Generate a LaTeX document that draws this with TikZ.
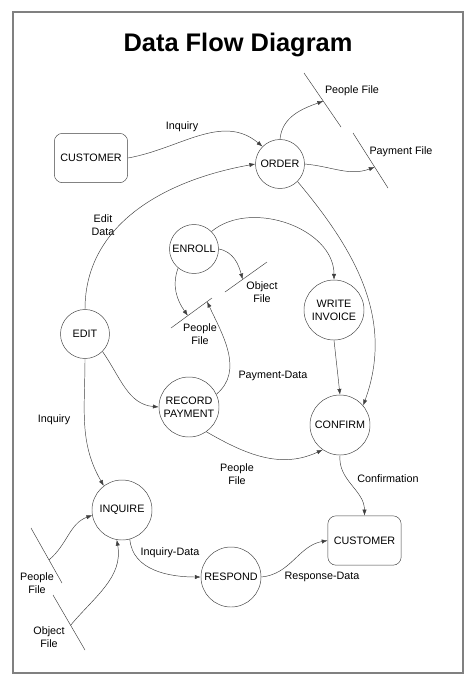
\documentclass[tikz,border=0pt]{standalone}
\usepackage{fontspec}
\setmainfont{Liberation Sans}
\usetikzlibrary{arrows.meta}
\tikzset{
    process/.style = {
        draw=black!75,
        shape=circle,
        inner sep=0pt,
        minimum size=1.47cm,
        align=center,
        line width=0.4pt
    },
    bigprocess/.style = {
        process,
        minimum size=1.8cm
    },
    entity/.style = {
        draw=black!75,
        shape=rectangle,
        rounded corners=7pt,
        minimum width=2.2cm,
        minimum height=1.48cm,
        line width=0.4pt
    },
    store/.style = {
        draw=black!75,
        line width=0.4pt
    },
    empty/.style = {
        align=center,
        inner sep=0pt
    },
    flow/.style = {
        draw=black!75,
        line width=0.4pt,
        ->
    },
    >={Latex[length=5pt,width=3.6pt]},
}

\begin{document}
\begin{tikzpicture}[x=0.03cm, y=-0.03cm, every node/.style={font=\fontsize{9.2}{11}\selectfont}]
                \useasboundingbox (0,0) rectangle (474,686);
                \draw[draw=black!50, line width=1.2pt] (13,12) rectangle (463,673);
                \node[anchor=base, font=\fontsize{21.7}{26}\selectfont\bfseries] (title) at (238,51) {Data Flow Diagram};

                \node[entity] (custA) at (91,158) {CUSTOMER};
                \node[entity] (custB) at (364.5,540.5) {CUSTOMER};
                \node[process] (order) at (280,164) {ORDER};
                \node[process] (enroll) at (194,249) {ENROLL};
                \node[process] (edit) at (85,334) {EDIT};
                \node[bigprocess] (invoice) at (334,310) {WRITE\\INVOICE};
                \node[bigprocess] (record) at (189,407) {RECORD\\PAYMENT};
                \node[bigprocess] (confirm) at (340,425) {CONFIRM};
                \node[bigprocess] (inquire) at (122,510) {INQUIRE};
                \node[bigprocess] (respond) at (231,577) {RESPOND};

                % data stores
                \path[store] (304,73) -- coordinate[pos=0.52] (peopleA) (341,127);
                \path[store] (353,133) -- coordinate[pos=0.62] (paymentB) (388,188);
                \path[store] (225,292) -- coordinate[pos=0.42] (objectC) (267,262);
                \path[store] (171,328) -- coordinate[pos=0.41] (peopleDa) coordinate[pos=0.88] (peopleDb) (212,298);
                \path[store] (31,528) -- coordinate[pos=0.58] (peopleE) (62,583);
                \path[store] (53,595) -- coordinate[pos=0.55] (objectF) (85,650);

                \node[empty] (lPeopleA) at (352,91) {People File};
                \node[empty] (lPayment) at (401,152) {Payment File};
                \node[empty] (lInqA) at (182,127) {Inquiry};
                \node[empty] (lEdit) at (103,225) {Edit\\Data};
                \node[empty] (lObjectC) at (262,292) {Object\\File};
                \node[empty] (lPeopleD) at (200,334) {People\\File};
                \node[empty] (lPayData) at (273,376) {Payment-Data};
                \node[empty] (lInqB) at (54,420) {Inquiry};
                \node[empty] (lPeopleR) at (237,474) {People\\File};
                \node[empty] (lConf) at (388,479) {Confirmation};
                \node[empty] (lInqData) at (170,553) {Inquiry-Data};
                \node[empty] (lResp) at (322,577) {Response-Data};
                \node[empty] (lPeopleE) at (37,583) {People\\File};
                \node[empty] (lObjectF) at (49,637) {Object\\File};

                \path[flow] (custA.east) to[out=10, in=140] (order.135);
                \path[flow] (order.north) to[out=85, in=200] (peopleA);
                \path[flow] (order.east) to[out=-5, in=200] (paymentB);
                \path[flow] (edit.north) to[out=90, in=190] (order.west);
                \path[flow] (order.-45) to[out=-50, in=70] (confirm.40);
                \path[flow] (enroll.45) to[out=40, in=90] (invoice.north);
                \path[flow] (enroll.east) to[out=-10, in=105] (objectC);
                \path[flow] (enroll.230) to[out=250, in=125] (peopleDa);
                \path[flow] (record.25) to[out=40, in=-65] (peopleDb);
                \path[flow] (invoice.south) -- (confirm.north);
                \path[flow] (edit.-45) to[out=-55, in=175] (record.west);
                \path[flow] (record.-55) to[out=-30, in=205] (confirm.235);
                \path[flow] (edit.south) to[out=-90, in=120] (inquire.127);
                \path[flow] (confirm.south) to[out=-95, in=90] (custB.north);
                \path[flow] (peopleE) to[out=40, in=200] (inquire.190);
                \path[flow] (objectF) to[out=50, in=-80] (inquire.260);
                \path[flow] (inquire.-75) to[out=-85, in=180] (respond.west);
                \path[flow] (respond.east) to[out=5, in=190] (custB.west);
            \end{tikzpicture}
\end{document}
